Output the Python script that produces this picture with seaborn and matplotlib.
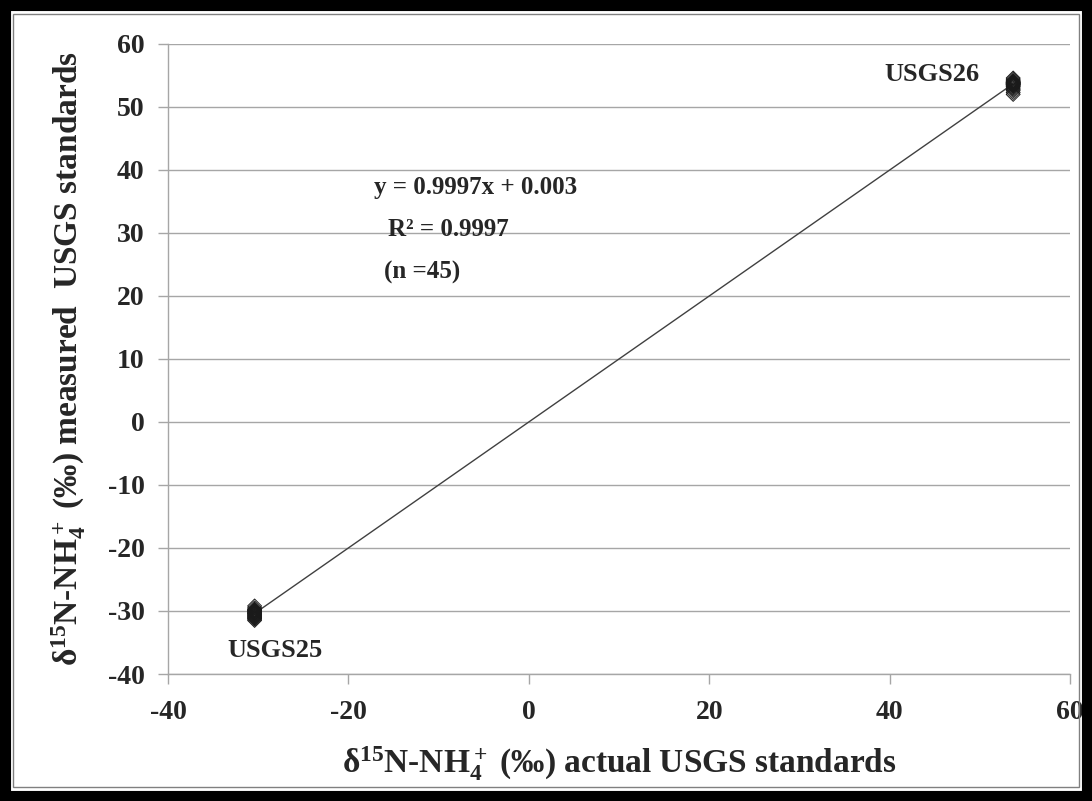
import numpy as np
import pandas as pd
import matplotlib
matplotlib.use("Agg")
import matplotlib.pyplot as plt
import seaborn as sns
from matplotlib.patches import Rectangle

# data
usgs25_actual = -30.4
usgs26_actual = 53.7
usgs25_measured = [-29.2, -29.5, -29.7, -29.8, -29.9, -30.0, -30.1, -30.2, -30.3, -30.4, -30.5,
                   -30.6, -30.7, -30.8, -30.9, -31.0, -31.1, -31.2, -31.3, -31.5, -30.35, -29.95]
usgs26_measured = [54.6, 54.4, 54.2, 54.0, 53.9, 53.8, 53.7, 53.6, 53.5, 53.4, 53.3,
                   53.2, 53.0, 52.8, 52.6, 52.3, 52.0, 53.75, 53.85, 54.1, 53.55, 53.65, 53.95]
slope = 0.9997
intercept = 0.003
x_ticks = [-40, -20, 0, 20, 40, 60]
y_ticks = [-40, -30, -20, -10, 0, 10, 20, 30, 40, 50, 60]

df = pd.DataFrame({
    "actual": [usgs25_actual] * len(usgs25_measured) + [usgs26_actual] * len(usgs26_measured),
    "measured": usgs25_measured + usgs26_measured,
})

sns.set_theme(style="white")
plt.rcParams["font.family"] = ["Liberation Serif", "DejaVu Serif"]
plt.rcParams["font.weight"] = "bold"
plt.rcParams["axes.unicode_minus"] = False
plt.rcParams["mathtext.fontset"] = "custom"
plt.rcParams["mathtext.rm"] = "Liberation Serif:bold"
plt.rcParams["mathtext.it"] = "Liberation Serif:bold"
plt.rcParams["mathtext.bf"] = "Liberation Serif:bold"

fig = plt.figure(figsize=(10.92, 8.01), dpi=100)
ax = fig.add_axes([168 / 1092, 1 - 674 / 801, 902 / 1092, 630 / 801])

# regression line
xl = np.array([usgs25_actual, usgs26_actual])
sns.lineplot(x=xl, y=slope * xl + intercept, ax=ax, color="#404040", lw=1.0, zorder=3)
sns.scatterplot(data=df, x="actual", y="measured", ax=ax, marker="D", s=50,
                facecolor="none", edgecolor="#1a1a1a", linewidth=0.7, zorder=4)

ax.set_xlim(-40, 60)
ax.set_ylim(-40, 60)
ax.set_xticks(x_ticks)
ax.set_yticks(y_ticks)
ax.yaxis.grid(True, color="#a6a6a6", lw=1.0)
ax.xaxis.grid(False)
for s in ["top", "right"]:
    ax.spines[s].set_visible(False)
for s in ["left", "bottom"]:
    ax.spines[s].set_color("#a6a6a6")
    ax.spines[s].set_linewidth(1.0)
ax.tick_params(axis="both", which="both", direction="out", length=7, width=1.0,
               color="#a6a6a6", labelsize=20, left=True, bottom=True)
ax.tick_params(axis="x", pad=12)
ax.tick_params(axis="y", pad=10)
for lab in ax.get_xticklabels() + ax.get_yticklabels():
    lab.set_fontweight("bold")

ax.set_xlabel(r"δ$^{15}$N-NH$_4^+$ (‰) actual USGS standards", fontsize=24,
              fontweight="bold", labelpad=14)
ax.set_ylabel(r"δ$^{15}$N-NH$_4^+$ (‰) measured  USGS standards", fontsize=24,
              fontweight="bold", labelpad=14)

ax.text(-5.9, 37.3, "y = 0.9997x + 0.003", ha="center", va="center", fontsize=18, fontweight="bold")
ax.text(-8.9, 30.5, "R² = 0.9997", ha="center", va="center", fontsize=18, fontweight="bold")
ax.text(-11.8, 23.7, "(n =45)", ha="center", va="center", fontsize=18, fontweight="bold")
ax.text(44.7, 55.1, "USGS26", ha="center", va="center", fontsize=19, fontweight="bold")
ax.text(-28.1, -36.2, "USGS25", ha="center", va="center", fontsize=19, fontweight="bold")

# borders
fig.patches.append(Rectangle((5 / 1092, 5 / 801), 1 - 10 / 1092, 1 - 10 / 801,
                             transform=fig.transFigure, fill=False, edgecolor="black",
                             linewidth=8, zorder=10))
fig.patches.append(Rectangle((13 / 1092, 14 / 801), 1 - 26 / 1092, 1 - 28 / 801,
                             transform=fig.transFigure, fill=False, edgecolor="#808080",
                             linewidth=1, zorder=10))

fig.savefig("out.png", dpi=100)
